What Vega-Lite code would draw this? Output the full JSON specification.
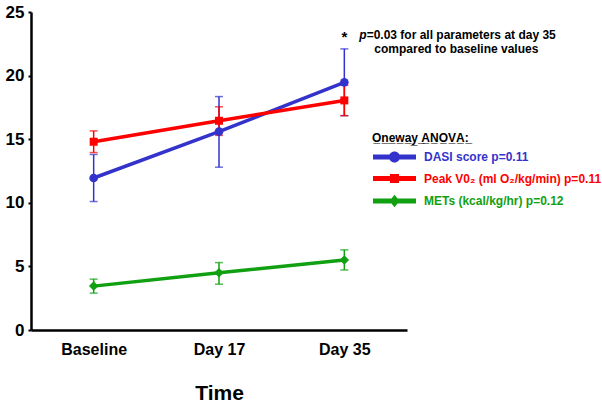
{
  "$schema": "https://vega.github.io/schema/vega-lite/v6.json",
  "width": 376,
  "height": 318,
  "autosize": "none",
  "padding": {"left": 31, "top": 12, "right": 195, "bottom": 78},
  "config": {"view": {"stroke": null}, "font": "Liberation Sans"},
  "data": {
    "values": [
      {"series": "DASI score p=0.11", "time": "Baseline", "mean": 11.95, "lo": 10.1, "hi": 13.8},
      {"series": "DASI score p=0.11", "time": "Day 17", "mean": 15.6, "lo": 12.8, "hi": 18.35},
      {"series": "DASI score p=0.11", "time": "Day 35", "mean": 19.47, "lo": 16.85, "hi": 22.1},
      {"series": "Peak V0₂ (ml O₂/kg/min) p=0.11", "time": "Baseline", "mean": 14.8, "lo": 13.95, "hi": 15.65},
      {"series": "Peak V0₂ (ml O₂/kg/min) p=0.11", "time": "Day 17", "mean": 16.45, "lo": 15.3, "hi": 17.55},
      {"series": "Peak V0₂ (ml O₂/kg/min) p=0.11", "time": "Day 35", "mean": 18.05, "lo": 16.85, "hi": 19.25},
      {"series": "METs (kcal/kg/hr) p=0.12", "time": "Baseline", "mean": 3.45, "lo": 2.9, "hi": 4.0},
      {"series": "METs (kcal/kg/hr) p=0.12", "time": "Day 17", "mean": 4.5, "lo": 3.6, "hi": 5.3},
      {"series": "METs (kcal/kg/hr) p=0.12", "time": "Day 35", "mean": 5.5, "lo": 4.72, "hi": 6.3}
    ]
  },
  "encoding": {
    "x": {
      "field": "time", "type": "ordinal",
      "sort": ["Baseline", "Day 17", "Day 35"],
      "scale": {"type": "point", "padding": 0.5},
      "axis": {
        "title": "Time", "titleFontSize": 21, "titleFontWeight": "bold", "titleColor": "black", "titlePadding": 25,
        "labelAngle": 0, "labelFontSize": 16, "labelFontWeight": "bold", "labelColor": "black", "labelPadding": 11,
        "ticks": false, "domainColor": "black", "domainWidth": 2.5, "grid": false
      }
    }
  },
  "layer": [
    {
      "mark": {"type": "errorbar", "ticks": true, "size": 8, "thickness": 1.5},
      "encoding": {
        "y": {"field": "lo", "type": "quantitative", "scale": {"domain": [0, 25], "nice": false},
          "axis": {"title": null, "values": [0, 5, 10, 15, 20, 25], "grid": false, "domainColor": "black", "domainWidth": 2.5,
            "tickColor": "black", "tickWidth": 2, "tickSize": 3, "labelFontSize": 17, "labelFontWeight": "bold", "labelColor": "black", "labelPadding": 4}},
        "y2": {"field": "hi"},
        "color": {"field": "series", "type": "nominal", "legend": null,
          "scale": {"domain": ["DASI score p=0.11", "METs (kcal/kg/hr) p=0.12", "Peak V0₂ (ml O₂/kg/min) p=0.11"], "range": ["#3333cc", "#11a011", "#ff0000"]}}
      }
    },
    {
      "mark": {"type": "line", "strokeWidth": 3.5},
      "encoding": {
        "y": {"field": "mean", "type": "quantitative"},
        "color": {"field": "series", "type": "nominal", "legend": null}
      }
    },
    {
      "transform": [{"filter": "datum.series === 'DASI score p=0.11'"}],
      "mark": {"type": "point", "filled": true, "shape": "circle", "size": 75, "opacity": 1},
      "encoding": {
        "y": {"field": "mean", "type": "quantitative"},
        "color": {"field": "series", "type": "nominal", "legend": null}
      }
    },
    {
      "transform": [{"filter": "datum.series === 'Peak V0₂ (ml O₂/kg/min) p=0.11'"}],
      "mark": {"type": "point", "filled": true, "shape": "square", "size": 64, "opacity": 1},
      "encoding": {
        "y": {"field": "mean", "type": "quantitative"},
        "color": {"field": "series", "type": "nominal", "legend": null}
      }
    },
    {
      "transform": [{"filter": "datum.series === 'METs (kcal/kg/hr) p=0.12'"}],
      "mark": {"type": "point", "filled": true, "shape": "diamond", "size": 90, "opacity": 1},
      "encoding": {
        "y": {"field": "mean", "type": "quantitative"},
        "color": {"field": "series", "type": "nominal", "legend": null}
      }
    },
    {
      "mark": {"type": "point", "filled": true, "opacity": 0.001},
      "encoding": {
        "y": {"field": "mean", "type": "quantitative"},
        "color": {"field": "series", "type": "nominal", "legend": null},
        "shape": {"field": "series", "type": "nominal",
          "scale": {"domain": ["DASI score p=0.11", "Peak V0₂ (ml O₂/kg/min) p=0.11", "METs (kcal/kg/hr) p=0.12"],
            "range": [
              "M-1,-0.5H7.6V0.5H-1Z M2.2,0A1.1,1.1,0,1,1,4.4,0A1.1,1.1,0,1,1,2.2,0Z",
              "M-1,-0.5H7.6V0.5H-1Z M2.4,-0.9H4.2V0.9H2.4Z",
              "M-1,-0.5H7.6V0.5H-1Z M3.3,-1.25L4.3,0L3.3,1.25L2.3,0Z"
            ]},
          "legend": {
            "orient": "none", "legendX": 341, "legendY": 121, "padding": 0,
            "title": "O\u0332n\u0332e\u0332w\u0332a\u0332y\u0332 \u0332A\u0332N\u0332O\u0332V\u0332A\u0332:\u0332",
            "titleFontSize": 12, "titleFontWeight": "bold", "titleColor": "black", "titlePadding": 6,
            "labelFontSize": 12, "labelFontWeight": "bold", "labelOffset": 40, "labelLimit": 400,
            "labelColor": {"expr": "indexof(datum.value, 'DASI') >= 0 ? '#3333cc' : indexof(datum.value, 'Peak') >= 0 ? '#ff0000' : '#11a011'"},
            "symbolFillColor": {"expr": "indexof(datum.value, 'DASI') >= 0 ? '#3333cc' : indexof(datum.value, 'Peak') >= 0 ? '#ff0000' : '#11a011'"},
            "symbolSize": 100, "symbolStrokeWidth": 0, "symbolOpacity": 1, "rowPadding": 9.5
          }
        }
      }
    },
    {
      "data": {"values": [{}]},
      "mark": {"type": "text", "text": "*", "fontSize": 15, "fontWeight": "bold", "align": "center", "baseline": "middle", "dy": 2, "color": "black"},
      "encoding": {"x": {"datum": "Day 35"}, "y": {"datum": 23.2}}
    },
    {
      "data": {"values": [{}]},
      "mark": {"type": "text", "text": "p", "fontSize": 12, "fontWeight": "bold", "fontStyle": "italic", "align": "left", "baseline": "middle", "dx": 15, "color": "black"},
      "encoding": {"x": {"datum": "Day 35"}, "y": {"datum": 23.2}}
    },
    {
      "data": {"values": [{}]},
      "mark": {"type": "text", "text": "=0.03 for all parameters at day 35", "fontSize": 12, "fontWeight": "bold", "align": "left", "baseline": "middle", "dx": 22.3, "color": "black"},
      "encoding": {"x": {"datum": "Day 35"}, "y": {"datum": 23.2}}
    },
    {
      "data": {"values": [{}]},
      "mark": {"type": "text", "text": "compared to baseline values", "fontSize": 12, "fontWeight": "bold", "align": "center", "baseline": "middle", "dx": 112, "color": "black"},
      "encoding": {"x": {"datum": "Day 35"}, "y": {"datum": 22.1}}
    }
  ]
}
